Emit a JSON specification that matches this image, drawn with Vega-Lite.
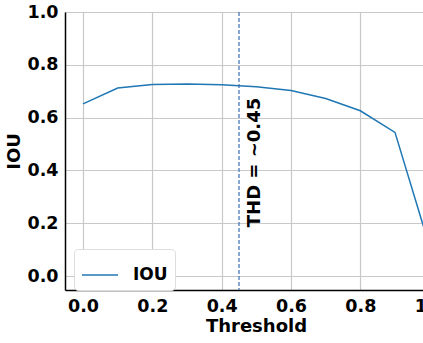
{
  "$schema": "https://vega.github.io/schema/vega-lite/v6.json",
  "width": 382,
  "height": 278,
  "autosize": {"type": "none"},
  "padding": {"left": 65, "top": 12, "right": 0, "bottom": 53},
  "config": {
    "font": "DejaVu Sans",
    "view": {"stroke": null},
    "axis": {
      "labelFont": "DejaVu Sans",
      "labelFontSize": 17.5,
      "labelFontWeight": "bold",
      "labelColor": "#000000",
      "titleFont": "DejaVu Sans",
      "titleFontSize": 18,
      "titleFontWeight": "bold",
      "titleColor": "#000000",
      "ticks": false,
      "labelPadding": 7,
      "domainColor": "#000000",
      "domainWidth": 1.5,
      "gridColor": "#c8c8c8",
      "gridWidth": 1.2
    }
  },
  "datasets": {
    "iou": [
      {"threshold": 0.0, "value": 0.652, "series": "IOU"},
      {"threshold": 0.1, "value": 0.712, "series": "IOU"},
      {"threshold": 0.2, "value": 0.725, "series": "IOU"},
      {"threshold": 0.3, "value": 0.727, "series": "IOU"},
      {"threshold": 0.4, "value": 0.724, "series": "IOU"},
      {"threshold": 0.5, "value": 0.717, "series": "IOU"},
      {"threshold": 0.6, "value": 0.703, "series": "IOU"},
      {"threshold": 0.7, "value": 0.672, "series": "IOU"},
      {"threshold": 0.8, "value": 0.626, "series": "IOU"},
      {"threshold": 0.9, "value": 0.544, "series": "IOU"},
      {"threshold": 1.0, "value": 0.11, "series": "IOU"}
    ],
    "thd": [{"x": 0.45, "tx": 0.495, "ty": 0.43, "label": "THD = ~0.45"}]
  },
  "layer": [
    {
      "data": {"name": "iou"},
      "mark": {"type": "line", "strokeWidth": 1.5, "clip": true},
      "encoding": {
        "x": {
          "field": "threshold", "type": "quantitative",
          "scale": {"domain": [-0.052, 1.05], "nice": false, "zero": false},
          "axis": {"values": [0, 0.2, 0.4, 0.6, 0.8, 1.0], "format": ".1f", "title": "Threshold", "titlePadding": 3}
        },
        "y": {
          "field": "value", "type": "quantitative",
          "scale": {"domain": [-0.053, 1.0], "nice": false, "zero": false},
          "axis": {"values": [0, 0.2, 0.4, 0.6, 0.8, 1.0], "format": ".1f", "title": "IOU", "titlePadding": 3}
        },
        "color": {
          "field": "series", "type": "nominal",
          "scale": {"range": ["#1f77b4"]},
          "legend": {
            "title": null,
            "orient": "none",
            "legendX": 9,
            "legendY": 237,
            "symbolType": "stroke",
            "symbolSize": 1296,
            "symbolStrokeWidth": 1.5,
            "labelFontSize": 17,
            "labelFontWeight": "bold",
            "labelFont": "DejaVu Sans",
            "labelColor": "#000000",
            "labelOffset": 14,
            "padding": 7,
            "strokeColor": "#dddddd",
            "fillColor": "#ffffff",
            "cornerRadius": 4
          }
        }
      }
    },
    {
      "data": {"name": "thd"},
      "mark": {"type": "rule", "strokeDash": [4, 2], "strokeWidth": 1.2, "color": "#3d6db5"},
      "encoding": {"x": {"field": "x", "type": "quantitative"}}
    },
    {
      "data": {"name": "thd"},
      "mark": {"type": "text", "angle": 270, "fontSize": 18, "fontWeight": "bold", "font": "DejaVu Sans", "align": "center", "baseline": "middle", "color": "#000000"},
      "encoding": {
        "x": {"field": "tx", "type": "quantitative"},
        "y": {"field": "ty", "type": "quantitative"},
        "text": {"field": "label"}
      }
    }
  ]
}
